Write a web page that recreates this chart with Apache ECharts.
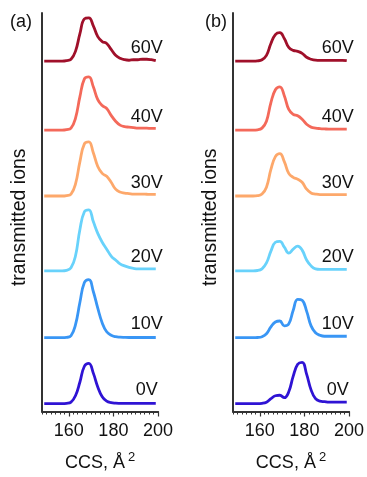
<!DOCTYPE html>
<html>
<head>
<meta charset="utf-8">
<script src="https://cdn.jsdelivr.net/npm/echarts@6/dist/echarts.min.js"></script>
<style>
  html, body { margin: 0; padding: 0; background: #fff; }
  #chart { width: 367px; height: 477px; }
</style>
</head>
<body>
<div id="chart"></div>
<script>
// CCS sampling points (Å^2)
const ccs = [149,151,153,155,157,159,161,163,165,167,169,171,173,175,177,179,181,183,185,187,189,191,193,195,197,199];

const voltages = ['0V', '10V', '20V', '30V', '40V', '60V'];
const colors = ['#2f13d4', '#3996f5', '#68d2fb', '#fda86b', '#f4695a', '#a0102a'];

// vertical offset of each trace (stacked display)
const offsets = [8, 75, 143, 219, 286, 356];

// x ticks
const tickLabels = [160, 180, 200];
const minorTicks = [148,150,152,154,156,158,160,162,164,166,168,170,172,174,176,178,180,182,184,186,188,190,192,194,196,198,200];

// panel (a) intensities
const a0V  = [0,0,0,0,0,0.3,1.5,8,22,38,41,31,17,7,2.5,1,0.5,0.3,0.2,0.2,0.2,0.2,0.2,0.2,0.2,0.2];
const a10V = [0,0,0,0,0,0.3,2,13,36,56,59,47,30,15,6,2.5,1,0.5,0.3,0.2,0.2,0.2,0.2,0.2,0.2,0.2];
const a20V = [0,0,0,0,0,0.5,3,15,42,60,62,50,38,29,22,15,11,7,5,3.5,2.5,2,2,2,2,2];
const a30V = [0,0,0,0,0,0.5,2,12,35,53,55,44,30,23,20,14,7,4,3,2.5,2,2,2,1.8,1.7,1.7];
const a40V = [0,0,0,0,0,0.5,2,12,34,52,54,44,31,25,22,15,9,5,3.5,3,2.5,2,2,2,1.7,1.7];
const a60V = [0,0,0,0,0,0.5,2,10,28,43,44,36,25,20,18,12,6,3,1.5,1,1.5,1.5,2,2,1.5,0.5];

// panel (b) intensities
const b0V  = [0,0,0,0,0,0,0.3,1.5,5,8,8.5,6,12,28,40,42,30,14,5,2.5,2,1.5,1.5,1.5,1.5,1.5];
const b10V = [0,0,0,0,0,0.2,1,4,11,16,17,12,14,28,39,38,27,12,5,2.5,1.5,1.5,1.5,1.5,1.5,1.5];
const b20V = [0,0,0,0,0,0.3,2,8,20,29,30,24,18,22,25,21,11,5,2,1.5,1.5,1.5,1.5,1.5,1.5,1.5];
const b30V = [0,0,0,0,0,0.3,2,9,27,40,43,35,23,19,17,14,7,3,2,1.5,1.5,1.5,1.5,1.5,1.5,1.5];
const b40V = [0,0,0,0,0,0.3,2,9,28,41,44,35,21,16,14.5,11,6,3,2,1.5,1.2,1,1,1,1,1];
const b60V = [0,0,0,0,0,0.3,1.5,6,18,27,29,23,14,11,10,8,4,2,1,0.8,0.8,0.8,0.8,0.8,0.8,0.5];

const panelA = [a0V, a10V, a20V, a30V, a40V, a60V];
const panelB = [b0V, b10V, b20V, b30V, b40V, b60V];

// where the voltage labels sit (data units)
const labelX = 195;
const labelLift = 13.5;

const font = 'Liberation Sans, Arial, Helvetica, sans-serif';
const ink = '#111';

function xAxes(gridIndex) {
  return [
    {
      type: 'value', gridIndex: gridIndex, min: 148, max: 200,
      axisLine: { lineStyle: { color: '#333', width: 2 } },
      axisTick: { customValues: minorTicks, length: 3, lineStyle: { color: '#333', width: 1 } },
      axisLabel: { customValues: tickLabels, fontSize: 18, color: ink, fontFamily: font, margin: 11 },
      splitLine: { show: false },
      name: '{n|CCS, Å}{s|2}',
      nameLocation: 'middle',
      nameGap: 39,
      nameTextStyle: {
        rich: {
          n: { fontSize: 18, color: ink, fontFamily: font },
          s: { fontSize: 13, color: ink, fontFamily: font, padding: [0, 0, 12, 3] }
        }
      }
    },
    {
      type: 'value', gridIndex: gridIndex, min: 148, max: 200, position: 'bottom',
      axisLine: { show: false },
      axisTick: { customValues: tickLabels, length: 5, lineStyle: { color: '#333', width: 1.2 } },
      axisLabel: { show: false },
      splitLine: { show: false }
    }
  ];
}

function yAxis(gridIndex) {
  return {
    type: 'value', gridIndex: gridIndex, min: 0, max: 405,
    axisLine: { show: true, lineStyle: { color: '#333', width: 2 } },
    axisTick: { show: false },
    axisLabel: { show: false },
    splitLine: { show: false },
    name: 'transmitted ions',
    nameLocation: 'middle',
    nameGap: 12,
    nameTextStyle: { fontSize: 19.5, color: ink, fontFamily: font, padding: [0, 10, 0, 0] }
  };
}

function panelSeries(traces, gridIndex) {
  let list = traces.map((vals, i) => ({
    type: 'line',
    xAxisIndex: gridIndex * 2,
    yAxisIndex: gridIndex,
    data: ccs.map((x, k) => [x, vals[k] + offsets[i]]),
    smooth: 0.45,
    showSymbol: false,
    lineStyle: { color: colors[i], width: 2.8 },
    itemStyle: { color: colors[i] },
    silent: true
  }));
  list.push({
    type: 'scatter',
    xAxisIndex: gridIndex * 2,
    yAxisIndex: gridIndex,
    symbolSize: 0,
    itemStyle: { color: ink, opacity: 1 },
    data: voltages.map((v, i) => [labelX, offsets[i] + labelLift, v]),
    label: {
      show: true, position: 'inside', formatter: p => p.data[2],
      fontSize: 18, color: ink, fontFamily: font, textBorderWidth: 0
    },
    silent: true
  });
  return list;
}

const chart = echarts.init(document.getElementById('chart'));
chart.setOption({
  animation: false,
  backgroundColor: '#fff',
  title: [
    { text: '(a)', left: 10, top: 13, padding: 0, textStyle: { fontSize: 18, fontWeight: 'normal', color: ink, fontFamily: font } },
    { text: '(b)', left: 205, top: 13, padding: 0, textStyle: { fontSize: 18, fontWeight: 'normal', color: ink, fontFamily: font } }
  ],
  grid: [
    { left: 42, top: 13, width: 116, bottom: 59 },
    { left: 233, top: 13, width: 117, bottom: 59 }
  ],
  xAxis: xAxes(0).concat(xAxes(1)),
  yAxis: [yAxis(0), yAxis(1)],
  series: panelSeries(panelA, 0).concat(panelSeries(panelB, 1))
});
</script>
</body>
</html>
